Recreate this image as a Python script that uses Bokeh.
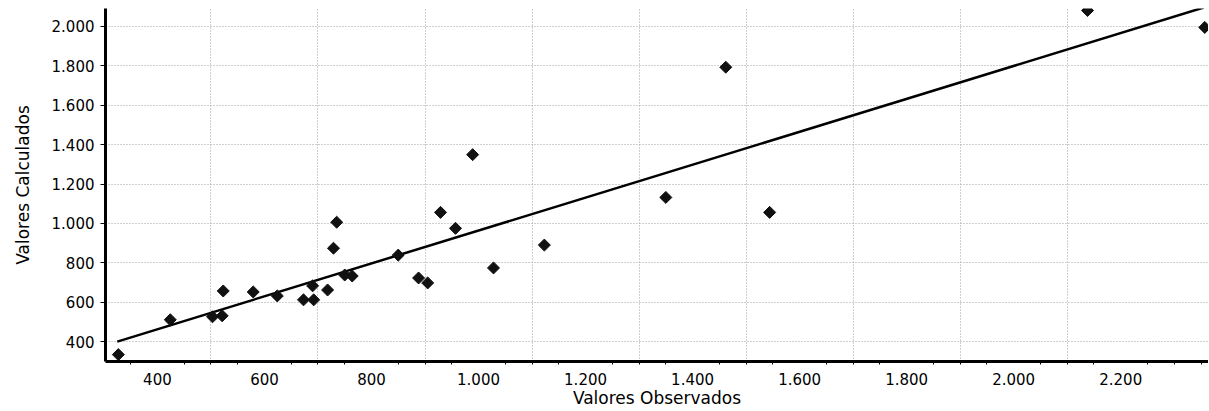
import math
from bokeh.plotting import figure
from bokeh.models import FixedTicker, Range1d
from bokeh.embed import file_html
from bokeh.resources import INLINE

observados = [327, 424, 503, 521, 523, 579, 624, 673, 692, 690, 718, 729, 735, 750,
              764, 850, 888, 905, 929, 957, 1028, 1123, 989, 1350, 1462, 1544, 2138, 2357]
calculados = [334, 511, 526, 531, 657, 652, 632, 612, 612, 683, 662, 874, 1006, 738,
              733, 839, 723, 698, 1056, 975, 774, 890, 1349, 1132, 1793, 1056, 2081, 1995]

# Trend line end points
trend_x = [325, 2355]
trend_y = [400, 2096]

x_ticks = [400, 600, 800, 1000, 1200, 1400, 1600, 1800, 2000, 2200]
x_grid = [500, 700, 900, 1100, 1300, 1500, 1700, 1900, 2100]
y_ticks = [400, 600, 800, 1000, 1200, 1400, 1600, 1800, 2000]

def fmt(v):
    return f"{v:,}".replace(",", ".")

FONT = "DejaVu Sans"

p = figure(width=1208, height=410, output_backend="svg", toolbar_location=None,
           x_range=Range1d(303, 2364), y_range=Range1d(299, 2091),
           min_border_left=105, min_border_right=0, min_border_top=8, min_border_bottom=48)
p.outline_line_color = None
p.background_fill_color = "white"

# grid
p.xgrid.ticker = FixedTicker(ticks=x_grid)
p.ygrid.ticker = FixedTicker(ticks=y_ticks)
for g in (p.xgrid, p.ygrid):
    g.grid_line_color = "#a0a0a0"
    g.grid_line_dash = "1 2"
    g.grid_line_width = 1

minor = [v for v in range(350, 2351, 50) if v % 200 != 0]

xa = p.xaxis[0]
xa.ticker = FixedTicker(ticks=x_ticks, minor_ticks=minor)
xa.major_label_overrides = {v: fmt(v) for v in x_ticks}
xa.major_tick_out = 0
xa.major_tick_in = 0
xa.minor_tick_out = 3
xa.minor_tick_in = 0
xa.major_label_standoff = 8
xa.axis_label = "Valores Observados"
xa.axis_label_standoff = 0

ya = p.yaxis[0]
ya.ticker = FixedTicker(ticks=y_ticks)
ya.major_label_overrides = {v: fmt(v) for v in y_ticks}
ya.major_tick_out = 5
ya.major_tick_in = 0
ya.minor_tick_out = 0
ya.minor_tick_in = 0
ya.major_label_standoff = 6
ya.axis_label = "Valores Calculados"
ya.axis_label_standoff = 16

for ax in (xa, ya):
    ax.axis_line_width = 3
    ax.axis_line_color = "black"
    ax.major_tick_line_color = "black"
    ax.minor_tick_line_color = "black"
    ax.major_label_text_font = FONT
    ax.major_label_text_font_size = "15px"
    ax.major_label_text_color = "black"
    ax.axis_label_text_font = FONT
    ax.axis_label_text_font_size = "17px"
    ax.axis_label_text_font_style = "normal"
    ax.axis_label_text_color = "black"

p.line(trend_x, trend_y, line_color="black", line_width=2.5)
p.scatter(observados, calculados, marker="square", size=8.5, angle=math.pi / 4,
          fill_color="#111111", line_color="#111111", line_width=1)

open("out.html", "w").write(file_html(p, INLINE))
